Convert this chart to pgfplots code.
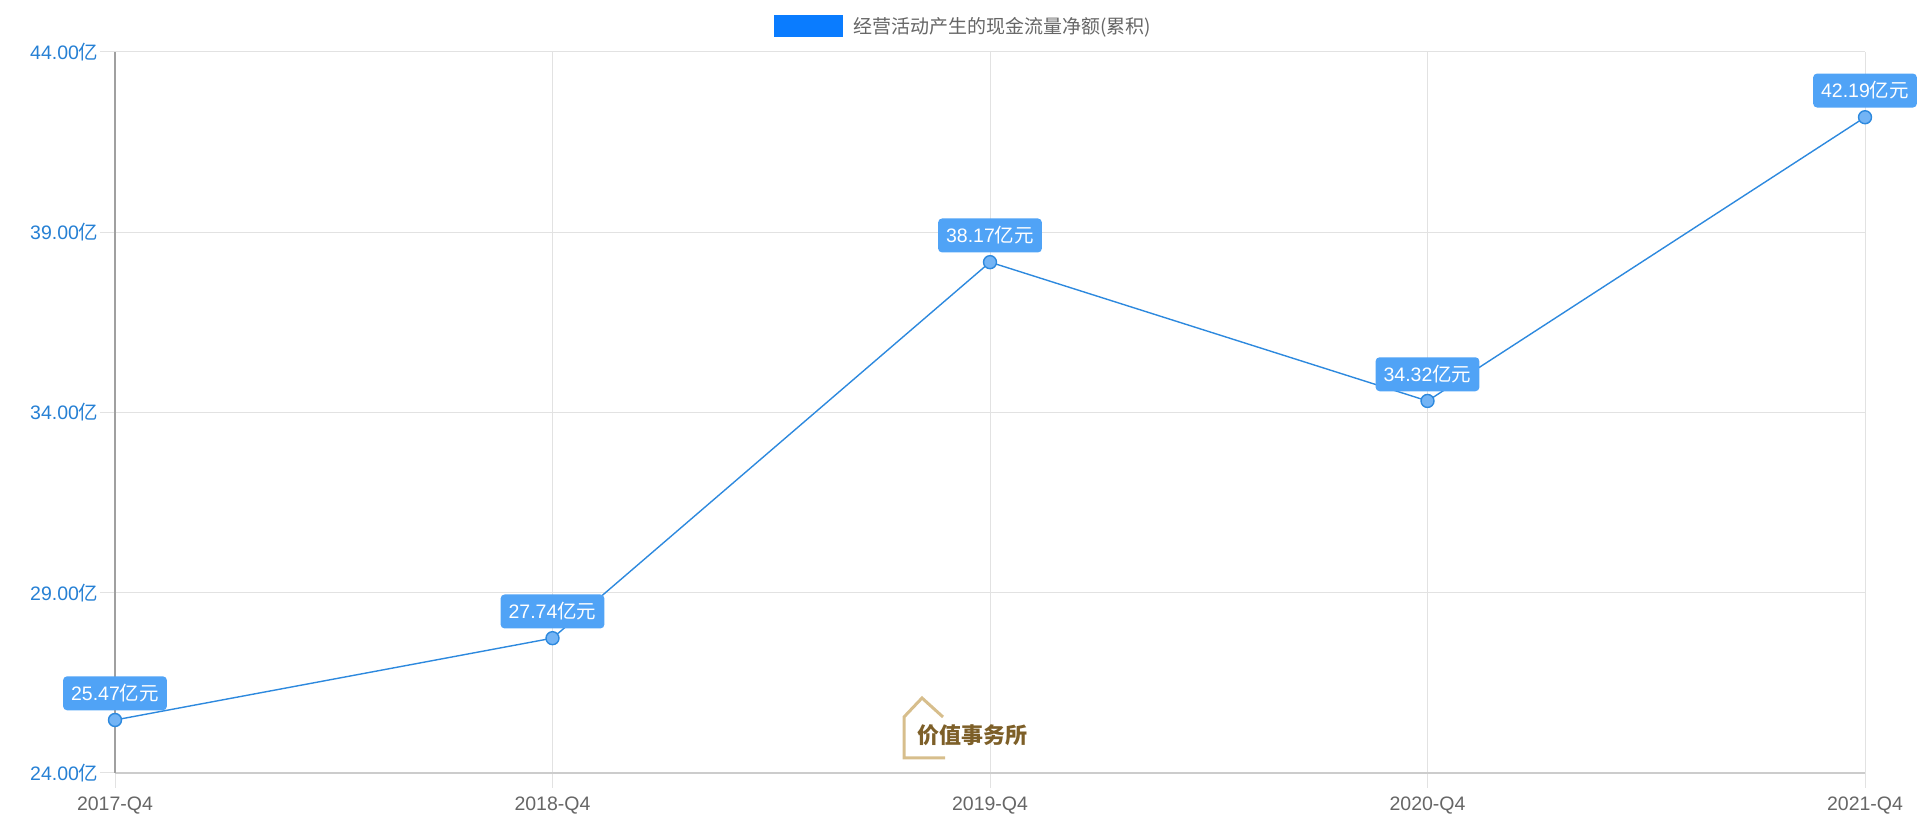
\documentclass[border=0pt]{standalone}
\usepackage{pgfplots}
\pgfplotsset{compat=1.18}
\usepackage{fontspec}
\setmainfont{Liberation Sans}
\newfontfamily\cjk{Noto Sans CJK SC}
\definecolor{lineblue}{RGB}{45,137,222}
\definecolor{markfill}{RGB}{115,180,245}
\definecolor{labelblue}{RGB}{80,163,246}
\definecolor{tickblue}{RGB}{38,128,212}
\definecolor{legblue}{RGB}{10,124,255}
\definecolor{gridgray}{RGB}{226,226,226}
\definecolor{axisgray}{RGB}{160,160,160}
\definecolor{botgray}{RGB}{204,204,204}
\definecolor{txtgray}{RGB}{102,102,102}
\definecolor{wmgold}{RGB}{125,95,40}
\definecolor{wmlight}{RGB}{215,190,140}

\begin{document}
\begin{tikzpicture}[x=1pt,y=1pt]
\useasboundingbox (0,0) rectangle (1920,834);
\begin{axis}[
  at={(115pt,61pt)}, anchor=south west,
  scale only axis, width=1750pt, height=721pt,
  xmin=0, xmax=4, ymin=24, ymax=44,
  clip=false,
  xtick={0,1,2,3,4},
  xticklabels={2017-Q4,2018-Q4,2019-Q4,2020-Q4,2021-Q4},
  ytick={24,29,34,39,44},
  axis x line*=bottom, axis y line*=left,
  x axis line style={draw=botgray, line width=1.2pt, -},
  y axis line style={draw=axisgray, line width=1.2pt, -},
  tick align=outside, major tick length=15pt,
  tick style={gridgray, line width=1pt},
  grid=major, major grid style={gridgray, line width=1pt},
  tick label style={font=\fontsize{19.5}{19.5}\selectfont},
  /pgf/number format/assume math mode=true,
  yticklabel style={text=tickblue, xshift=2pt},
  xticklabel style={text=txtgray, yshift=-5pt},
  yticklabel={\pgfmathprintnumber[fixed,fixed zerofill,precision=2]{\tick}{\cjk 亿}},
  legend style={at={(0.485,1)}, anchor=center, yshift=26pt, draw=none, fill=none,
    inner sep=0pt, font=\cjk\fontsize{19}{19}\selectfont, text=txtgray},
  legend image code/.code={\fill[legblue] (0pt,-10.5pt) rectangle (67pt,10.5pt); \path (76pt,0pt);},
]
\addplot[lineblue, line width=1.4pt, mark=*, mark size=6.5pt,
  mark options={fill=markfill, draw=lineblue, line width=1.4pt},
  nodes near coords={\pgfmathprintnumber[fixed,fixed zerofill,precision=2]{\pgfplotspointmeta}{\cjk 亿元}},
  every node near coord/.style={fill=labelblue, text=white, rounded corners=4pt,
    anchor=south, yshift=9pt, inner xsep=8pt, inner ysep=0pt, minimum height=34pt,
    font=\fontsize{19.5}{19.5}\selectfont, /pgf/number format/assume math mode=true},
] coordinates {(0,25.47) (1,27.74) (2,38.17) (3,34.32) (4,42.19)};
\addlegendentry{经营活动产生的现金流量净额(累积)}
\end{axis}
% watermark
\draw[wmlight, line width=3pt] (943,117) -- (922,136) -- (904,117) -- (904,76) -- (945,76);
\node[text=wmgold, font=\cjk\bfseries\fontsize{22}{22}\selectfont] at (972,99) {价值事务所};
\end{tikzpicture}
\end{document}
